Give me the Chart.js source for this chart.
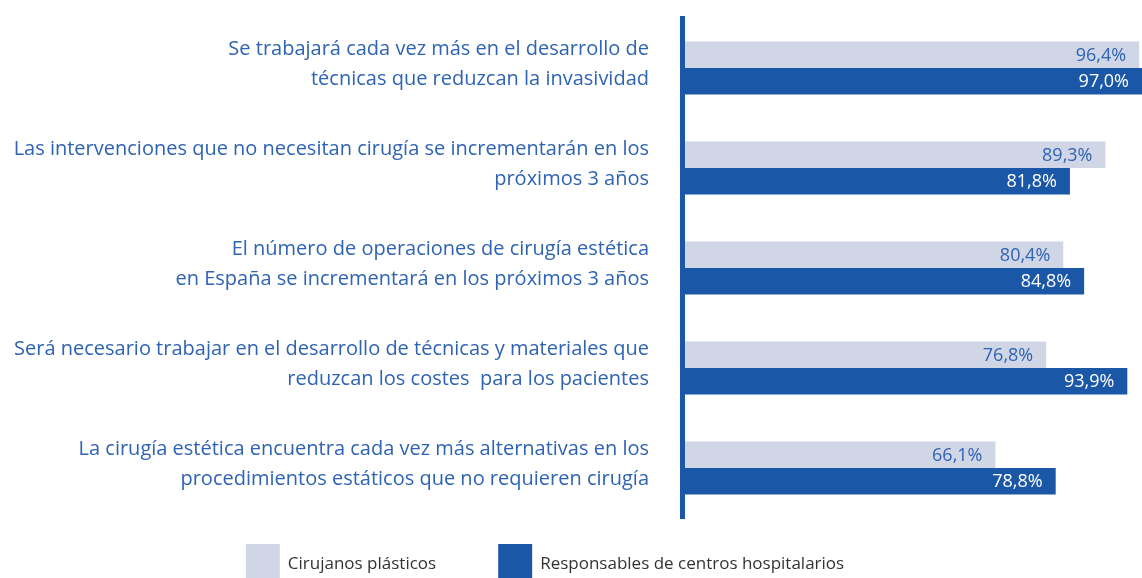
<!DOCTYPE html>
<html><head><meta charset="utf-8">
<script src="https://cdn.jsdelivr.net/npm/chart.js@4.4.1/dist/chart.umd.min.js"></script>
<style>html,body{margin:0;padding:0;background:#fff;} #wrap{position:relative;width:1142px;height:578px;}</style>
</head><body><div id="wrap"><canvas id="c" width="1142" height="578"></canvas></div>
<script>
const categories = [
  ["Se trabajará cada vez más en el desarrollo de", "técnicas que reduzcan la invasividad"],
  ["Las intervenciones que no necesitan cirugía se incrementarán en los", "próximos 3 años"],
  ["El número de operaciones de cirugía estética", "en España se incrementará en los próximos 3 años"],
  ["Será necesario trabajar en el desarrollo de técnicas y materiales que", "reduzcan los costes  para los pacientes"],
  ["La cirugía estética encuentra cada vez más alternativas en los", "procedimientos estáticos que no requieren cirugía"]
];
const seriesNames = ["Cirujanos plásticos", "Responsables de centros hospitalarios"];
const cirujanos = [96.4, 89.3, 80.4, 76.8, 66.1];
const responsables = [97.0, 81.8, 84.8, 93.9, 78.8];

const LIGHT = '#d0d6e6', DARK = '#1b57a7', TEXTBLUE = '#2f63b3';

const valueLabels = {
  id: 'valueLabels',
  afterDatasetsDraw(chart) {
    const ctx = chart.ctx;
    ctx.save();
    ctx.font = '18px "Open Sans"';
    ctx.textAlign = 'right';
    ctx.textBaseline = 'middle';
    chart.data.datasets.forEach((d, i) => {
      const meta = chart.getDatasetMeta(i);
      meta.data.forEach((el, j) => {
        const txt = d.data[j].toFixed(1).replace('.', ',') + '%';
        ctx.fillStyle = i === 0 ? TEXTBLUE : '#ffffff';
        ctx.fillText(txt, el.x - 13, el.y + 1);
      });
    });
    ctx.restore();
  }
};

const customLegend = {
  id: 'customLegend',
  afterDraw(chart) {
    const ctx = chart.ctx;
    const ds = chart.data.datasets;
    ctx.save();
    ctx.font = '17px "Open Sans"';
    const box = 34, gap = 8, itemGap = 62;
    const widths = ds.map(d => box + gap + ctx.measureText(d.label).width);
    const total = widths.reduce((a, b) => a + b, 0) + itemGap * (ds.length - 1);
    let x = 545 - total / 2;
    const top = chart.chartArea.bottom + 26;
    ds.forEach((d, i) => {
      ctx.fillStyle = d.backgroundColor;
      ctx.fillRect(x, top, box, box);
      ctx.fillStyle = '#333333';
      ctx.textAlign = 'left';
      ctx.textBaseline = 'middle';
      ctx.fillText(d.label, x + box + gap, top + 20);
      x += widths[i] + itemGap;
    });
    ctx.restore();
  }
};

new Chart(document.getElementById('c'), {
  type: 'bar',
  data: {
    labels: categories,
    datasets: [
      { label: seriesNames[0], data: cirujanos, backgroundColor: LIGHT, borderWidth: 0 },
      { label: seriesNames[1], data: responsables, backgroundColor: DARK, borderWidth: 0 }
    ]
  },
  options: {
    indexAxis: 'y',
    responsive: false,
    animation: false,
    devicePixelRatio: 1,
    categoryPercentage: 0.53,
    barPercentage: 1,
    layout: { padding: { top: 18, bottom: 60, left: 0, right: 0 } },
    plugins: { legend: { display: false }, tooltip: { enabled: false } },
    scales: {
      x: { display: false, min: 0, max: 97 },
      y: {
        grid: { display: false, drawTicks: false },
        border: { display: true, color: DARK, width: 5, z: 1 },
        ticks: {
          color: TEXTBLUE,
          font: { family: '"Open Sans"', size: 20, lineHeight: 1.5 },
          padding: 33,
          labelOffset: -4,
          autoSkip: false
        },
        afterFit(s) { s.width = 682; s.paddingTop = 0; s.paddingBottom = 0; }
      }
    }
  },
  plugins: [valueLabels, customLegend]
});
</script>
</body></html>
